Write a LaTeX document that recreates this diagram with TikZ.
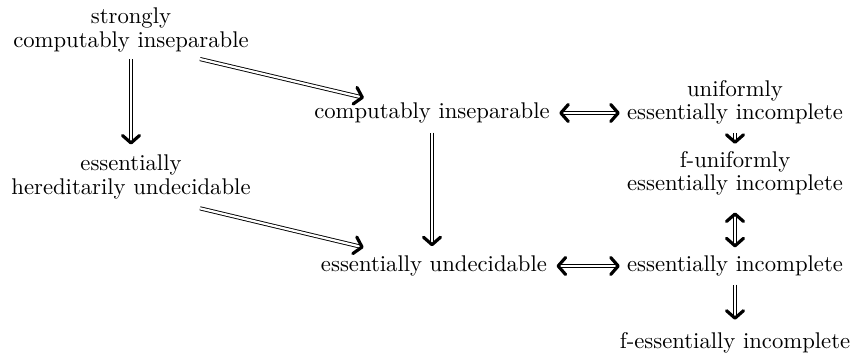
\documentclass[tikz,border=0pt]{standalone}
\usetikzlibrary{arrows.meta}
\begin{document}
\begin{tikzpicture}[x=0.4405pt,y=-0.4405pt,
    main node/.style={align=center,inner sep=0pt,font=\fontsize{10}{10.2}\selectfont},
    imp/.style={double,double distance=1pt,line width=0.4pt,-{Straight Barb[round,length=3.3pt,width=7.5pt,line width=1.4pt 0]}},
    iff/.style={double,double distance=1pt,line width=0.4pt,{Straight Barb[round,length=3.3pt,width=7.5pt,line width=1.4pt 0]}-{Straight Barb[round,length=3.3pt,width=7.5pt,line width=1.4pt 0]}}]
  \useasboundingbox (0,0) rectangle (851,354);
  \node[main node] at (131,30) (sci) {strongly\\computably inseparable};
  \node[main node] at (131,177) (ehu) {essentially\\hereditarily undecidable};
  \node[main node] at (432,113) (ci) {computably inseparable};
  \node[main node] at (434,266) (eu) {essentially undecidable};
  \node[main node] at (735,102) (uei) {uniformly\\essentially incomplete};
  \node[main node] at (735,173) (fuei) {f-uniformly\\essentially incomplete};
  \node[main node] at (735,266) (ei) {essentially incomplete};
  \node[main node] at (735,343) (fei) {f-essentially incomplete};

  \draw[imp,shorten <=3pt,shorten >=4.5pt] (sci.south) -- (ehu.north);
  \draw[imp] ([xshift=30.4pt,yshift=-3pt]sci.south) -- ([xshift=-30pt,yshift=2pt]ci.north);
  \draw[imp] ([xshift=30.4pt,yshift=-4pt]ehu.south) -- ([xshift=-31pt,yshift=3.5pt]eu.north);
  \draw[imp,shorten <=4pt,shorten >=4pt] (ci.south) -- (ci.south |- eu.north);
  \draw[iff,shorten <=4pt,shorten >=3pt] (ci.east) -- (ci.east -| uei.west);
  \draw[iff,shorten <=4pt,shorten >=3pt] (eu.east) -- (eu.east -| ei.west);
  \draw[imp,shorten <=4pt,shorten >=3pt] (uei.south) -- (fuei.north);
  \draw[iff,shorten <=7.5pt,shorten >=3.5pt] (fuei.south) -- (ei.north);
  \draw[imp,shorten <=3.5pt,shorten >=5.5pt] (ei.south) -- (fei.north);
\end{tikzpicture}
\end{document}
